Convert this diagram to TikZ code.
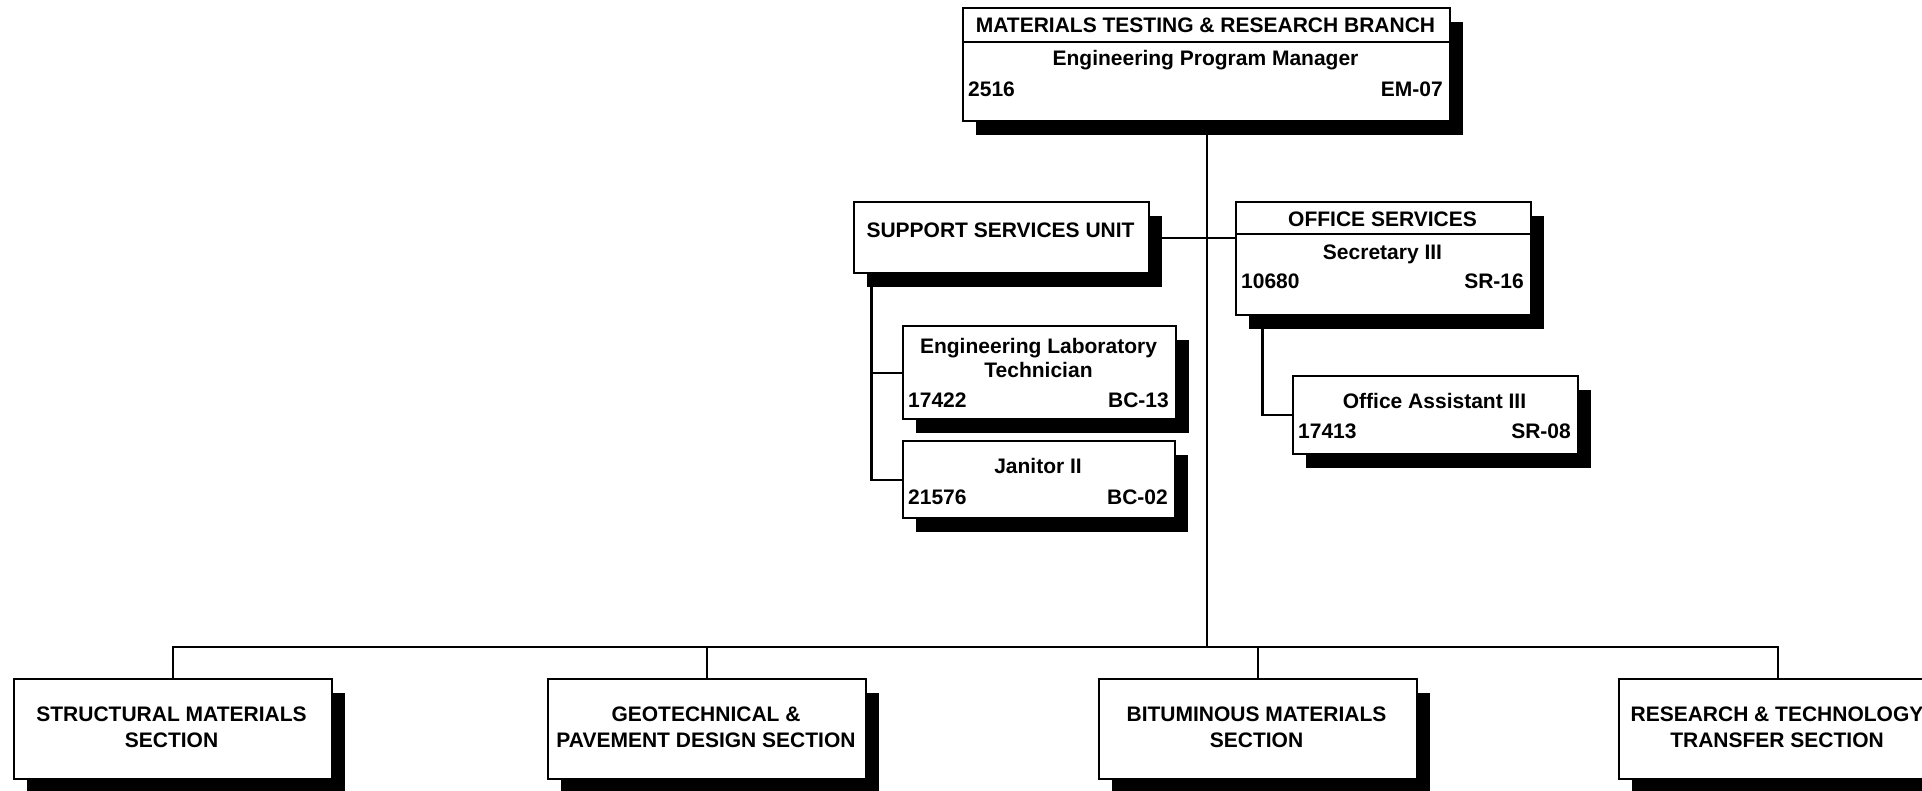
\documentclass[tikz,border=0pt]{standalone}
\usepackage{fontspec}
\setmainfont{Liberation Sans}
\usetikzlibrary{shadows,backgrounds}
\begin{document}
\begin{tikzpicture}[x=1pt,y=-1pt,
  box/.style={draw=black, line width=2.2pt, fill=white, inner sep=0pt, anchor=north west,
    drop shadow={shadow xshift=13pt, shadow yshift=-14pt, opacity=1, fill=black}},
  txt/.style={inner sep=0pt, font=\bfseries\fontsize{21}{24}\selectfont},
  link/.style={line width=2.2pt, line cap=rect}]
\useasboundingbox (0,0) rectangle (1922,790);
% top box
\node[box, minimum width=487pt, minimum height=113pt] (top) at (962,7) {};
\coordinate (h1) at (0,42);
\draw[line width=2.2pt] (top.west |- h1) -- (top.east |- h1);
\node[txt, anchor=base] (topt) at (1205.5,32.5) {MATERIALS TESTING \& RESEARCH BRANCH};
\node[txt, anchor=base] (topj) at (1205.5,65) {Engineering Program Manager};
\node[txt, anchor=base west] (topn) at (968,96) {2516};
\node[txt, anchor=base east] (topg) at (1443,96) {EM-07};
% support services
\node[box, minimum width=295pt, minimum height=71pt] (sup) at (853,201) {};
\node[txt, anchor=base] (supt) at (1000.5,237.5) {SUPPORT SERVICES UNIT};
% office services
\node[box, minimum width=295pt, minimum height=113pt] (off) at (1235,201) {};
\coordinate (h2) at (0,234);
\draw[line width=2.2pt] (off.west |- h2) -- (off.east |- h2);
\node[txt, anchor=base] (offt) at (1382.5,226.5) {OFFICE SERVICES};
\node[txt, anchor=base] (offj) at (1382.5,259) {Secretary III};
\node[txt, anchor=base west] (offn) at (1241,288) {10680};
\node[txt, anchor=base east] (offg) at (1524,288) {SR-16};
% office assistant
\node[box, minimum width=285pt, minimum height=78pt] (oa) at (1292,375) {};
\node[txt, anchor=base] (oaj) at (1434.5,408) {Office Assistant III};
\node[txt, anchor=base west] (oan) at (1298,438) {17413};
\node[txt, anchor=base east] (oag) at (1571,438) {SR-08};
% engineering lab tech
\node[box, minimum width=273pt, minimum height=93pt] (lab) at (902,325) {};
\node[txt, anchor=base] (labj1) at (1038.5,353) {Engineering Laboratory};
\node[txt, anchor=base] (labj2) at (1038.5,377) {Technician};
\node[txt, anchor=base west] (labn) at (908,407) {17422};
\node[txt, anchor=base east] (labg) at (1169,407) {BC-13};
% janitor
\node[box, minimum width=272pt, minimum height=77pt] (jan) at (902,440) {};
\node[txt, anchor=base] (janj) at (1038,473) {Janitor II};
\node[txt, anchor=base west] (jann) at (908,504) {21576};
\node[txt, anchor=base east] (jang) at (1168,504) {BC-02};
% sections
\node[box, minimum width=318pt, minimum height=100pt] (s1) at (12.5,678) {};
\node[txt, anchor=base] (s1a) at (171.5,721) {STRUCTURAL MATERIALS};
\node[txt, anchor=base] (s1b) at (171.5,747) {SECTION};
\node[box, minimum width=318pt, minimum height=100pt] (s2) at (547,678) {};
\node[txt, anchor=base] (s2a) at (706,721) {GEOTECHNICAL \&};
\node[txt, anchor=base] (s2b) at (706,747) {PAVEMENT DESIGN SECTION};
\node[box, minimum width=318pt, minimum height=100pt] (s3) at (1097.5,678) {};
\node[txt, anchor=base] (s3a) at (1256.5,721) {BITUMINOUS MATERIALS};
\node[txt, anchor=base] (s3b) at (1256.5,747) {SECTION};
\node[box, minimum width=318pt, minimum height=100pt] (s4) at (1618,678) {};
\node[txt, anchor=base] (s4a) at (1777,721) {RESEARCH \& TECHNOLOGY};
\node[txt, anchor=base] (s4b) at (1777,747) {TRANSFER SECTION};
% connectors
\begin{scope}[on background layer]
\fill[white] (0,0) rectangle (1922,790);
\coordinate (by) at (0,647);
\coordinate (sx) at (871.5,0);
\coordinate (ox) at (1262.5,0);
\draw[link] (top.south) -- (top.south |- by);
\draw[link] (s1.north |- by) -- (s4.north |- by);
\foreach \n in {s1,s2,s3,s4} \draw[link] (\n.north) -- (\n.north |- by);
\draw[link] (sup.east) -- (sup.east -| off.west);
\draw[link] (sup.south -| sx) -- (jan.west -| sx) -- (jan.west);
\draw[link] (lab.west -| sx) -- (lab.west);
\draw[link] (off.south -| ox) |- (oa.west);
\end{scope}
\end{tikzpicture}
\end{document}
